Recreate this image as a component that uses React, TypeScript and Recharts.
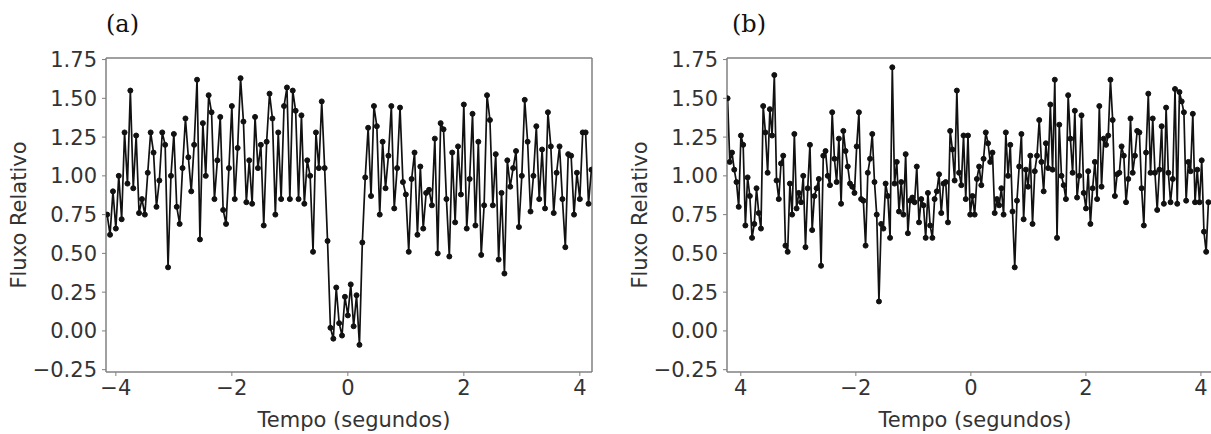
import { LineChart, Line, XAxis, YAxis, ReferenceLine } from "recharts";

const FLUX_A = [
  0.75, 0.62, 0.9, 0.66, 1.0, 0.72, 1.28, 0.95, 1.55, 0.92,
  1.26, 0.76, 0.85, 0.75, 1.02, 1.28, 1.15, 0.8, 0.97, 1.28,
  1.2, 0.41, 1.0, 1.27, 0.8, 0.69, 1.05, 1.37, 1.12, 0.9,
  1.2, 1.62, 0.59, 1.34, 1.0, 1.52, 1.41, 0.85, 1.1, 1.38,
  0.78, 0.69, 1.05, 1.45, 0.85, 1.18, 1.63, 1.35, 0.83, 1.1,
  0.82, 1.38, 1.05, 1.2, 0.68, 1.22, 1.53, 1.37, 0.75, 1.28,
  0.85, 1.45, 1.57, 0.85, 1.55, 1.42, 0.85, 1.39, 0.82, 1.1,
  1.0, 0.51, 1.28, 1.05, 1.48, 1.05, 0.58, 0.02, -0.05, 0.28,
  0.05, -0.03, 0.22, 0.1, 0.3, 0.03, 0.23, -0.09, 0.57, 0.99,
  1.31, 0.87, 1.45, 1.32, 0.75, 1.22, 0.92, 1.13, 1.45, 0.79,
  1.05, 1.44, 0.96, 0.88, 0.51, 0.98, 1.15, 0.62, 1.06, 0.66,
  0.89, 0.91, 0.81, 1.24, 0.5, 1.34, 1.3, 0.85, 0.48, 1.15,
  0.7, 1.19, 0.88, 1.46, 0.66, 0.98, 1.4, 0.68, 1.22, 0.49,
  0.81, 1.52, 1.36, 0.81, 1.14, 0.46, 0.89, 0.37, 1.1, 0.93,
  1.05, 1.16, 0.67, 1.0, 1.49, 1.22, 0.77, 1.0, 1.32, 0.85,
  1.17, 0.79, 1.41, 1.19, 0.76, 1.02, 1.19, 0.85, 0.54, 1.14,
  1.13, 0.75, 1.02, 0.85, 1.28, 1.28, 0.82, 1.04,
];

const FLUX_B = [
  1.5, 1.09, 1.15, 1.04, 0.96, 0.8, 1.26, 1.2, 0.68, 0.99,
  0.87, 0.6, 0.69, 0.92, 0.76, 0.66, 1.45, 1.28, 1.02, 1.43,
  1.26, 1.65, 0.97, 0.85, 1.08, 1.13, 0.55, 0.51, 0.95, 0.75,
  1.27, 0.79, 0.89, 0.83, 1.0, 0.54, 0.92, 1.2, 0.65, 0.87,
  0.92, 0.98, 0.42, 1.13, 1.16, 1.0, 0.94, 1.41, 1.11, 0.96,
  1.24, 0.82, 1.29, 1.16, 1.06, 0.95, 0.93, 0.89, 1.19, 1.41,
  0.85, 0.84, 0.55, 1.02, 1.11, 1.27, 0.96, 0.75, 0.19, 0.69,
  0.66, 0.95, 0.87, 0.6, 1.7, 0.95, 1.09, 0.77, 0.96, 0.75,
  1.14, 0.63, 0.84, 0.86, 0.83, 1.06, 0.7, 0.85, 0.81, 0.6,
  0.89, 0.68, 0.6, 0.85, 0.9, 1.01, 0.76, 0.95, 0.96, 0.7,
  1.29, 1.17, 0.97, 1.55, 1.02, 0.94, 1.26,
  0.85, 1.26, 0.75, 0.87, 0.75, 0.98, 1.06, 0.94, 1.11, 1.28,
  1.21, 1.09, 1.15, 0.76, 0.85, 0.81, 0.92, 0.75, 1.28, 1.0,
  1.2, 0.77, 0.41, 0.84, 1.06, 1.27, 0.72, 1.04, 0.93, 1.13,
  0.69, 1.03, 1.13, 1.36, 1.09, 0.9, 1.21, 1.05, 1.46, 1.04,
  1.62, 0.6, 1.33, 1.0, 0.94, 0.85, 1.52, 1.24, 1.02, 1.42,
  0.86, 1.0, 1.39, 0.89, 0.79, 1.03, 0.69, 0.92, 1.09, 0.85,
  1.45, 0.93, 1.24, 1.2, 1.26, 1.62, 1.36, 0.87, 1.01, 1.02,
  1.19, 1.13, 0.83, 0.98, 1.37, 1.02, 1.13, 1.29, 1.28, 0.92,
  0.68, 1.15, 1.53, 1.02, 1.37, 1.02, 0.78, 1.04, 1.32, 0.82,
  1.44, 1.02, 0.83, 0.98, 1.56, 0.82, 1.54, 1.48, 1.41, 0.84,
  1.09, 1.03, 1.4, 0.83, 1.04, 0.83, 1.1, 0.64, 0.51, 0.83,
];

// first and last sample time (s)
const SPAN_A = [-4.15, 4.2];
const SPAN_B = [-4.23, 4.13];

const Y_TICKS = [-0.25, 0, 0.25, 0.5, 0.75, 1, 1.25, 1.5, 1.75];
const X_TICKS = [-4, -2, 0, 2, 4];
const X_LABELS_A = ["−4", "−2", "0", "2", "4"];
const X_LABELS_B = ["4", "−2", "0", "2", "4"];

const X_TITLE = "Tempo (segundos)";
const Y_TITLE = "Fluxo Relativo";

const FONT = "'DejaVu Sans', sans-serif";
const TEXT = "#333";
const FRAME = "#808080";
const INK = "#111";
const Y_DOMAIN: [number, number] = [-0.265, 1.76];

function toSeries(flux: number[], span: number[]) {
  const dt = (span[1] - span[0]) / (flux.length - 1);
  return flux.map((f, i) => ({ t: span[0] + i * dt, flux: f }));
}

const yLabel = (v: number) => (v < 0 ? "−" + Math.abs(v).toFixed(2) : v.toFixed(2));

interface PanelProps {
  data: { t: number; flux: number }[];
  xDomain: [number, number];
  xLabels: string[];
  left: number;
  axisWidth: number;
  titleOffset: number;
  tag: string;
  tagLeft: number;
}

function Panel({ data, xDomain, xLabels, left, axisWidth, titleOffset, tag, tagLeft }: PanelProps) {
  const width = axisWidth + 486 + 8;
  const tick = { fontSize: 21, fontFamily: FONT, fill: TEXT };
  return (
    <>
      <div
        style={{
          position: "absolute",
          left: tagLeft,
          top: 10,
          fontFamily: "'DejaVu Serif', serif",
          fontSize: 24,
          color: "#111",
        }}
      >
        {tag}
      </div>
      <div style={{ position: "absolute", left, top: 0 }}>
        <LineChart width={width} height={434} data={data} margin={{ top: 58, right: 8, bottom: 0, left: 0 }}>
          <XAxis
            dataKey="t"
            type="number"
            domain={xDomain}
            allowDataOverflow
            ticks={X_TICKS}
            tickFormatter={(v: number) => xLabels[X_TICKS.indexOf(v)]}
            height={62}
            tickSize={4}
            tickMargin={4}
            tick={tick}
            tickLine={{ stroke: FRAME }}
            axisLine={{ stroke: FRAME, strokeWidth: 1.5 }}
            label={{ value: X_TITLE, position: "insideBottom", offset: 7, dx: 5, fontSize: 21, fontFamily: FONT, fill: TEXT }}
          />
          <YAxis
            type="number"
            domain={Y_DOMAIN}
            allowDataOverflow
            ticks={Y_TICKS}
            tickFormatter={yLabel}
            width={axisWidth}
            tickSize={4}
            tickMargin={5}
            tick={tick}
            tickLine={{ stroke: FRAME }}
            axisLine={{ stroke: FRAME, strokeWidth: 1.5 }}
            label={{
              value: Y_TITLE,
              angle: -90,
              position: "insideLeft",
              offset: titleOffset,
              fontSize: 21,
              fontFamily: FONT,
              fill: TEXT,
              style: { textAnchor: "middle" },
            }}
          />
          {/* top and right spines */}
          <ReferenceLine y={Y_DOMAIN[1]} stroke={FRAME} strokeWidth={1.5} />
          <ReferenceLine x={xDomain[1]} stroke={FRAME} strokeWidth={1.5} />
          <Line
            dataKey="flux"
            type="linear"
            stroke={INK}
            strokeWidth={1.7}
            dot={{ r: 2.5, fill: INK, stroke: INK, strokeWidth: 1 }}
            activeDot={false}
            isAnimationActive={false}
          />
        </LineChart>
      </div>
    </>
  );
}

export default function App() {
  return (
    <div
      style={{
        position: "fixed",
        left: 0,
        top: 0,
        width: 1211,
        height: 434,
        overflow: "hidden",
        background: "#fff",
      }}
    >
      <Panel
        data={toSeries(FLUX_A, SPAN_A)}
        xDomain={[-4.17, 4.21]}
        xLabels={X_LABELS_A}
        left={0}
        axisWidth={106}
        titleOffset={19}
        tag="(a)"
        tagLeft={106}
      />
      <Panel
        data={toSeries(FLUX_B, SPAN_B)}
        xDomain={[-4.24, 4.21]}
        xLabels={X_LABELS_B}
        left={609}
        axisWidth={118}
        titleOffset={31}
        tag="(b)"
        tagLeft={732}
      />
    </div>
  );
}
